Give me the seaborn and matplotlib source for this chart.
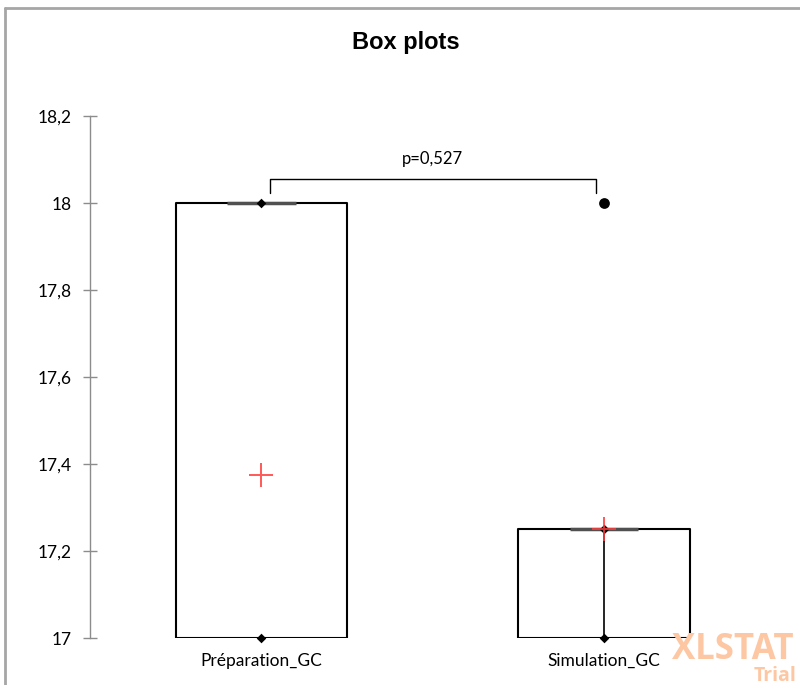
import numpy as np
import seaborn as sns
import matplotlib
matplotlib.use("Agg")
import matplotlib.pyplot as plt
from matplotlib.lines import Line2D

# Data
groups = ["Préparation_GC", "Simulation_GC"]
q1 = [17.0, 17.0]
q3 = [18.0, 17.25]
median = [18.0, 17.25]
mean = [17.375, 17.25]
minimum = [17.0, 17.0]
maximum = [18.0, 17.25]
whisker_top = [17.0, 17.25]   # inner vertical line drawn down to the minimum
outliers = [[], [18.0]]
p_label = "p=0,527"

sns.set_theme(style="white")
plt.rcParams["font.family"] = ["Lato", "DejaVu Sans"]

fig = plt.figure(figsize=(8, 6.85), dpi=100)
ax = fig.add_axes([90 / 800, 1 - 638 / 685, (775.5 - 90) / 800, (638 - 116) / 685])

pos = np.arange(len(groups))

# Boxes
stats = []
for i, g in enumerate(groups):
    stats.append({"label": g, "q1": q1[i], "q3": q3[i], "med": median[i],
                  "whislo": minimum[i], "whishi": maximum[i], "fliers": []})
ax.bxp(stats, positions=pos, widths=0.5, showcaps=False, showfliers=False,
       boxprops=dict(color="black", linewidth=1.5),
       whiskerprops=dict(color="black", linewidth=1.2),
       medianprops=dict(linewidth=0))

ax.vlines(pos, minimum, whisker_top, color="black", linewidth=1.2, zorder=3)

# Median lines (short, grey)
ax.hlines(median, pos - 0.1, pos + 0.1, color="#505050", linewidth=2.5, zorder=4)

# Min / max markers
sns.scatterplot(x=np.concatenate([pos, pos]), y=minimum + maximum, marker="D",
                s=24, color="black", edgecolor="black", linewidth=0, zorder=5,
                clip_on=False, ax=ax)

# Outliers
ox = [pos[i] for i, o in enumerate(outliers) for _ in o]
oy = [v for o in outliers for v in o]
sns.scatterplot(x=ox, y=oy, marker="o", s=60, color="black", edgecolor="black",
                linewidth=0, zorder=5, ax=ax)

# Means
sns.scatterplot(x=pos, y=mean, marker="+", s=300, color="#ff3b3b", linewidth=1.4,
                alpha=0.85, zorder=6, ax=ax)

# p-value bracket
bx0, bx1 = pos[0] + 0.026, pos[1] - 0.023
ax.plot([bx0, bx0, bx1, bx1], [18.023, 18.055, 18.055, 18.023], color="black",
        linewidth=1.0, clip_on=False)
ax.text((pos[0] + pos[1]) / 2, 18.083, p_label, ha="center", va="bottom",
        fontsize=12, color="black")

ax.set_xlim(-0.5, 1.5)
ax.set_ylim(17, 18.2)
ax.set_yticks([17, 17.2, 17.4, 17.6, 17.8, 18, 18.2])
ax.set_yticklabels(["17", "17,2", "17,4", "17,6", "17,8", "18", "18,2"])
ax.set_xticks(pos)
ax.set_xticklabels(groups)
ax.tick_params(axis="y", direction="inout", length=10, width=1, color="#8c8c8c",
               pad=8, labelsize=12.5, labelcolor="black", left=True)
ax.tick_params(axis="x", length=0, pad=11, labelsize=12.5, labelcolor="black")
for s in ["top", "right", "bottom"]:
    ax.spines[s].set_visible(False)
ax.spines["left"].set_color("#8c8c8c")
ax.spines["left"].set_linewidth(1.0)
ax.set_facecolor("white")
ax.grid(False)

fig.text(406 / 800, 1 - 43 / 685, "Box plots", ha="center", va="center",
         fontsize=17, fontweight="bold", color="black",
         family=["Liberation Sans Narrow", "Liberation Sans", "DejaVu Sans"])

# Outer frame
fig.add_artist(Line2D([5 / 800, 5 / 800], [0, 1 - 7.5 / 685], color="#a6a6a6",
                      linewidth=2, transform=fig.transFigure))
fig.add_artist(Line2D([5 / 800, 1], [1 - 7.5 / 685, 1 - 7.5 / 685], color="#a6a6a6",
                      linewidth=2, transform=fig.transFigure))

# Watermark
fig.text(672 / 800, 1 - 650 / 685, "XLSTAT", ha="left", va="center", fontsize=25,
         fontweight="bold", color="#fdc7a3", family=["Open Sans", "DejaVu Sans"])
fig.text(797 / 800, 1 - 676 / 685, "Trial", ha="right", va="center", fontsize=14,
         fontweight="bold", color="#fdc7a3", family=["Open Sans", "DejaVu Sans"])

fig.savefig("out.png", dpi=100, facecolor="white")
